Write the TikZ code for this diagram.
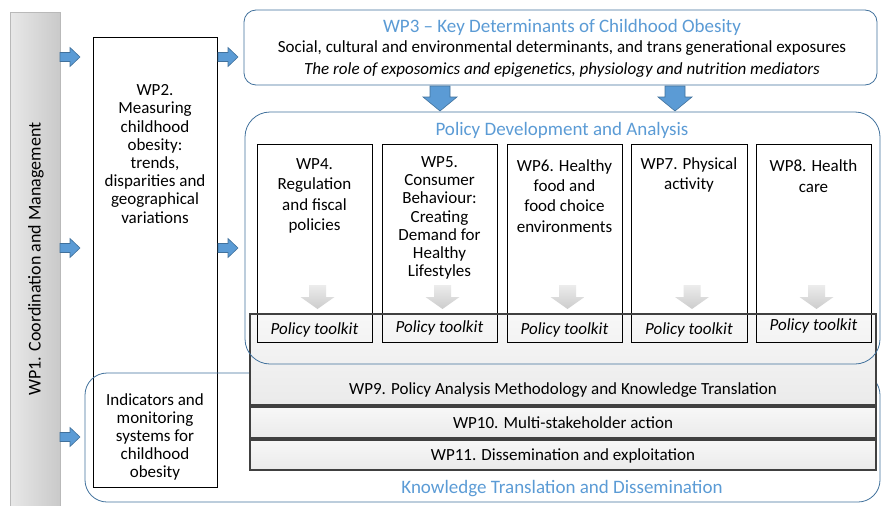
\documentclass[tikz,border=0pt]{standalone}
\usepackage{fontspec}
\setmainfont{Carlito}
\usetikzlibrary{positioning}
\definecolor{wpblue}{RGB}{91,155,213}
\definecolor{wpedge}{RGB}{65,113,156}
\definecolor{wpdark}{RGB}{64,64,64}

\tikzset{
  bluearrow/.style={fill=wpblue, draw=wpedge, line width=0.6pt},
  grayarrow/.style={top color=gray!15, bottom color=gray!40, draw=none},
  rarrow/.pic={\path[bluearrow] (0,-4.5) -- (10,-4.5) -- (10,-9.5) -- (20,0) -- (10,9.5) -- (10,4.5) -- (0,4.5) -- cycle;},
  darrow/.pic={\path[bluearrow] (-10,0) -- (10,0) -- (10,11) -- (17,11) -- (0,25) -- (-17,11) -- (-10,11) -- cycle;},
  garrow/.pic={\path[grayarrow] (-8.5,0) -- (8.5,0) -- (8.5,12) -- (17,12) -- (0,24) -- (-17,12) -- (-8.5,12) -- cycle;},
  body/.style={align=center, font=\fontsize{17}{20.5}\selectfont, inner sep=0pt},
  tight/.style={font=\fontsize{17}{18.2}\selectfont},
  title/.style={align=center, font=\fontsize{19}{22}\selectfont, text=wpblue, inner sep=0pt},
  roundbox/.style={draw=wpedge, line width=0.8pt},
  wpbar/.style={top color=gray!6, bottom color=gray!16, draw=wpdark, line width=1.1pt},
}

\begin{document}
\begin{tikzpicture}[x=1pt, y=-1pt]
    \useasboundingbox (0,0) rectangle (881,506);

    % WP1 bar
    \path[left color=gray!18, right color=gray!42, draw=gray!55] (10,12) rectangle (60,506);
    \node[rotate=90, font=\fontsize{18}{21}\selectfont] (wp1) at (36,259) {WP1. Coordination and Management};
    \pic at (60,57) {rarrow};
    \pic at (60,248) {rarrow};
    \pic at (60,437) {rarrow};

    % WP2 column
    \draw[fill=white, line width=0.8pt] (93,37) rectangle (217,487);
    \node[body, tight] (wp2) at (155,154) {WP2.\\Measuring\\childhood\\obesity:\\trends,\\disparities and\\geographical\\variations};
    \node[body, font=\fontsize{17}{17.8}\selectfont] (ind) at (155,437) {Indicators and\\monitoring\\systems for\\childhood\\obesity};
    \pic at (218,57) {rarrow};
    \pic at (218,248) {rarrow};

    % Knowledge translation frame
    \draw[roundbox, rounded corners=22] (85,373) rectangle (880,502);
    \node[title] (ktd) at (562,489) {Knowledge Translation and Dissemination};

    % WP9 - WP11
    \draw[wpbar] (250,314) rectangle (876,405);
    \node[body] (wp9) at (563,390) {WP9. Policy Analysis Methodology and Knowledge Translation};
    \draw[wpbar] (250,407) rectangle (876,438);
    \node[body] (wp10) at (563,423) {WP10. Multi-stakeholder action};
    \draw[wpbar] (250,440) rectangle (876,470);
    \node[body] (wp11) at (563,456) {WP11. Dissemination and exploitation};

    % WP3
    \draw[roundbox, fill=white, rounded corners=12] (244,10) rectangle (877,85);
    \node[title] (wp3) at (562,27) {WP3 -- Key Determinants of Childhood Obesity};
    \node[body] (wp3a) at (562,48) {Social, cultural and environmental determinants, and trans generational exposures};
    \node[body, font=\fontsize{17}{20}\itshape] (wp3b) at (562,70) {The role of exposomics and epigenetics, physiology and nutrition mediators};
    \pic at (440,86) {darrow};
    \pic at (675,86) {darrow};

    % Policy development frame
    \draw[roundbox, rounded corners=25] (245,112) rectangle (880,364);
    \node[title] (pda) at (562,130) {Policy Development and Analysis};

    % WP4 - WP8
    \foreach \xa/\xb/\name/\txt/\ty/\ls/\ky in {
        257/372/wp4/{WP4.\\Regulation\\and fiscal\\policies}/196/20.5/330,
        382/497/wp5/{WP5.\\Consumer\\Behaviour:\\Creating\\Demand for\\Healthy\\Lifestyles}/218/18.3/328,
        507/622/wp6/{WP6. Healthy\\food and\\food choice\\environments}/196/20.3/330,
        631/747/wp7/{WP7. Physical\\activity}/175/20.5/330,
        756/871/wp8/{WP8. Health\\care}/176/21/326} {
      \fill[white] (\xa,144) rectangle (\xb,314);
      \draw[line width=0.8pt] (\xa,144) rectangle (\xb,342);
      \node[body, font=\fontsize{17}{\ls}\selectfont] (\name) at ({(\xa+\xb)/2},\ty) {\txt};
      \pic at ({(\xa+\xb)/2+3},285) {garrow};
      \node[body, font=\fontsize{17}{20}\itshape] (\name kit) at ({(\xa+\xb)/2},\ky) {Policy toolkit};
    }
    \draw[wpdark, line width=1.1pt] (250,314) -- (876,314);
\end{tikzpicture}
\end{document}
